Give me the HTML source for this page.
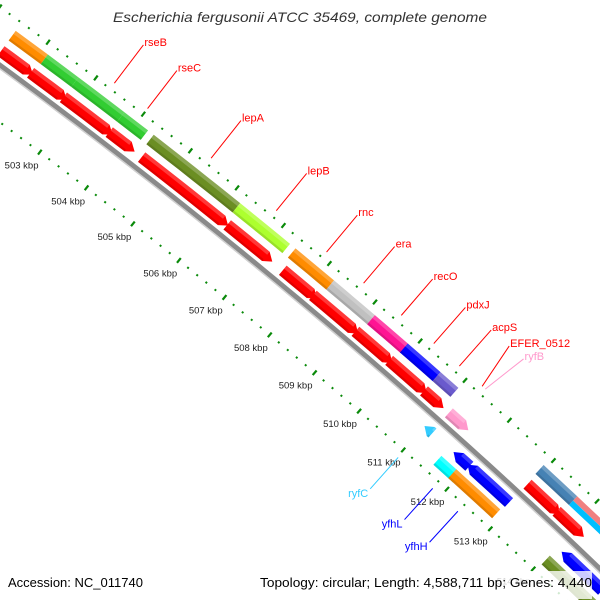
<!DOCTYPE html>
<html><head><meta charset="utf-8"><style>
html,body{margin:0;padding:0;background:#fff;width:600px;height:600px;overflow:hidden;}
svg{display:block;font-family:"Liberation Sans",sans-serif;}
</style></head><body>
<svg id="map" width="600" height="600" viewBox="0 0 600 600" xmlns="http://www.w3.org/2000/svg">
<rect width="600" height="600" fill="#fff"/>
<g id="plot"></g>
<text x="300" y="22" text-anchor="middle" font-size="14" font-style="italic" fill="#333" textLength="374" lengthAdjust="spacingAndGlyphs">Escherichia fergusonii ATCC 35469, complete genome</text>
<rect x="0" y="571" width="150" height="28" fill="#fff" fill-opacity="0.8"/>
<text x="8" y="587" font-size="13" fill="#000" textLength="135" lengthAdjust="spacingAndGlyphs">Accession: NC_011740</text>
<rect x="256" y="571" width="336" height="28" fill="#fff" fill-opacity="0.8"/>
<text x="592" y="587" font-size="13" fill="#000" text-anchor="end" textLength="332" lengthAdjust="spacingAndGlyphs">Topology: circular; Length: 4,588,711 bp; Genes: 4,440</text>
</svg>
<script>
// feature data (kbp)
const featStart = [501.45,502.12,502.76,503.73,504.35,506.2,507.4,508.24,509.14,509.87,510.6,
  501.45,502.07,502.76,503.73,504.42,506.26,507.47,508.13,509.07,509.82,510.6,
  511.16,511.0,511.66,511.98,511.55,511.89,512.93,512.95,513.62,513.7,513.7,514.15,514.05];
const featEnd = [502.12,502.76,503.73,504.23,506.2,507.28,508.24,509.14,509.88,510.6,511.0,
  502.12,502.83,503.8,504.27,506.28,507.24,508.22,509.13,509.89,510.66,511.04,
  511.6,511.18,512.02,512.93,512.0,512.9,513.7,513.7,514.25,514.5,514.45,515.1,515.3];
const featStrand = [0,0,0,0,0,0,0,0,0,0,0, 1,1,1,1,1,1,1,1,1,1,1, 1,-1,-1,-1,0,0,0,1,1,0,0,-1,0];
const featRow = ["oc","oc","oc","oc","oc","oc","oc","oc","oc","oc","oc",
  "or","or","or","or","or","or","or","or","or","or","or",
  "or","ib","ib","ib","ic","ic","oc","or","or","ocTop","ocBot","ib","ic"];
const featColor = ["#ff8c00","#32cd32","#32cd32","#32cd32","#6b8e23","#adff2f","#ff8c00","#c0c0c0","#ff1493","#0000ff","#6a5acd",
  "#ff0000","#ff0000","#ff0000","#ff0000","#ff0000","#ff0000","#ff0000","#ff0000","#ff0000","#ff0000","#ff0000",
  "#ff99cc","#33ccff","#0000ff","#0000ff","#00ffff","#ff8c00","#4682b4","#ff0000","#ff0000","#f08080","#00bfff","#0000ff","#6b8e23"];
// labels
const labelText = ["rseB","rseC","lepA","lepB","rnc","era","recO","pdxJ","acpS","EFER_0512","ryfB","ryfC","yfhL","yfhH"];
const labelPos = [503.3,504.0,505.35,506.75,507.84,508.65,509.48,510.2,510.77,511.28,511.35,511.02,511.81,512.39];
const labelEndPos = [503.3,504.0,505.35,506.75,507.84,508.65,509.48,510.2,510.77,511.17,511.49,511.02,511.81,512.39];
const labelSide = [1,1,1,1,1,1,1,1,1,1,1,-1,-1,-1];
const labelColor = ["#ff0000","#ff0000","#ff0000","#ff0000","#ff0000","#ff0000","#ff0000","#ff0000","#ff0000","#ff0000","#ff99cc","#33ccff","#0000ff","#0000ff"];
// ruler
const tickStartKbp = 499;
const tickEndKbp = 517;

const C = {x:-3518, y:4865};
const RB = 5951, RI = 5905, RO = 5998;
const ROWS = {oc:[5982,6],or:[5963,6],ib:[5937,6],ic:[5920,6],ocTop:[5985,3],ocBot:[5979,3]};
function ang(p){return (-52.95 + (p-503)*0.57) * Math.PI/180;}
function pt(p,r){const a=ang(p);return [C.x + r*Math.cos(a), C.y + r*Math.sin(a)];}
const NS = "http://www.w3.org/2000/svg";
const plot = document.getElementById("plot");
function mk(tag, attrs){const e=document.createElementNS(NS,tag);for(const k in attrs)e.setAttribute(k,attrs[k]);plot.appendChild(e);return e;}
function arcPts(p1,p2,r){const out=[];const n=Math.max(2,Math.ceil(Math.abs(p2-p1)/0.25));for(let i=0;i<=n;i++){out.push(pt(p1+(p2-p1)*i/n,r));}return out;}
function ps(a){return a.map(q=>q[0].toFixed(2)+","+q[1].toFixed(2)).join(" ");}

// backbone
const bb = mk("polyline",{points:ps(arcPts(tickStartKbp,tickEndKbp,RB)),fill:"none",stroke:"#8a8a8a","stroke-width":5});


const bb2 = mk("polyline",{points:ps(arcPts(tickStartKbp,tickEndKbp,RB-3)),fill:"none",stroke:"#cfcfcf","stroke-width":1.5});



// rulers
function ruler(R, name){
  const n = Math.round((tickEndKbp - tickStartKbp)/0.2);
  for(let i=0;i<=n;i++){
    const p = tickStartKbp + i*0.2;
    const major = Math.abs(p-Math.round(p))<1e-6;
    const len = major?3:1;
    const a = pt(p,R-len), b = pt(p,R+len);
    const t = mk("line",{x1:a[0],y1:a[1],x2:b[0],y2:b[1],stroke:"#0a8a0a","stroke-width":major?2.2:2});
    
    
    if(major && name==='inner-ruler'){
      const q = pt(p,R-17);
      const tx = mk("text",{x:q[0]-8,y:q[1]+3,"font-size":9.5,fill:"#222","text-anchor":"middle"});
      tx.textContent = Math.round(p) + " kbp";
      
      
    }
  }
}
ruler(RO,'outer-ruler');
ruler(RI,'inner-ruler');

// features
const HEAD = 0.14;
for(let i=0;i<featStart.length;i++){
  const s=featStart[i], e=featEnd[i], d=featStrand[i];
  const [rc,h]=ROWS[featRow[i]];
  let poly;
  if(d===0){
    poly = arcPts(s,e,rc+h).concat(arcPts(e,s,rc-h));
  } else if(d===1){
    const hs=Math.max(s,e-HEAD);
    poly = arcPts(s,hs,rc+h).concat([pt(e,rc)]).concat(arcPts(hs,s,rc-h));
  } else {
    const hs=Math.min(e,s+HEAD);
    poly = [pt(s,rc)].concat(arcPts(hs,e,rc+h)).concat(arcPts(e,hs,rc-h));
  }
  const f = mk("polygon",{points:ps(poly),fill:featColor[i]});
  
  
  if(h>3){
    const a0 = d===-1?Math.min(e,s+HEAD):s, a1 = d===1?Math.max(s,e-HEAD):e;
    const hl = mk("polygon",{points:ps(arcPts(a0,a1,rc+h).concat(arcPts(a1,a0,rc+h*0.35))),fill:"#fff","fill-opacity":0.22});
    
    
    const sh = mk("polygon",{points:ps(arcPts(a0,a1,rc-h*0.6).concat(arcPts(a1,a0,rc-h))),fill:"#000","fill-opacity":0.12});
    
    
  }
}

// labels
for(let i=0;i<labelText.length;i++){
  const side = labelSide[i];
  const a = pt(labelPos[i], side>0?6005:5896), b = pt(labelEndPos[i], side>0?6053:5854);
  const ln = mk("line",{x1:a[0],y1:a[1],x2:b[0],y2:b[1],stroke:labelColor[i],"stroke-width":1});
  
  
  const tx = mk("text",side>0?{x:b[0]+1,y:b[1]+1,"font-size":11,fill:labelColor[i]}:{x:b[0]-2,y:b[1]+8,"font-size":11,fill:labelColor[i],"text-anchor":"end"});
  tx.textContent = labelText[i];
  
  
}
</script>
</body></html>
